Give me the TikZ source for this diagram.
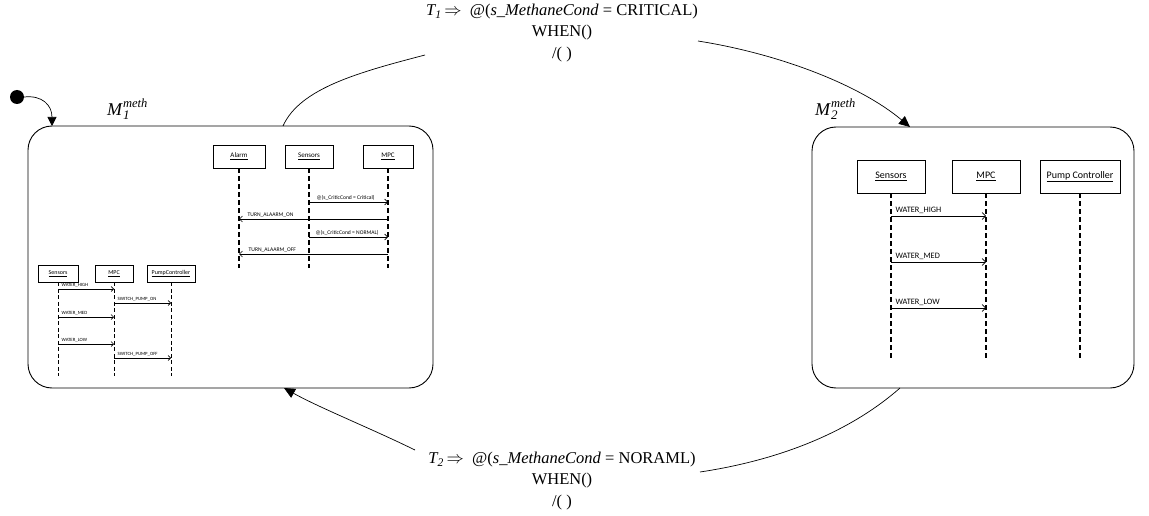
\documentclass[tikz,border=0pt]{standalone}
\usepackage{fontspec}
\setmainfont{Liberation Serif}
\newfontfamily\calib{Carlito}
\usetikzlibrary{arrows.meta}

\newcommand\stname[1]{\textit{M}\rlap{\raisebox{8pt}{\fontsize{12.5}{13}\selectfont\textit{meth}}}\raisebox{-4pt}{\fontsize{13}{13}\selectfont\textit{#1}}}

\begin{document}
\begin{tikzpicture}[x=1pt,y=-1pt,
  state/.style={draw, rounded corners=24pt, line width=0.9pt, inner sep=0},
  obj/.style={draw, line width=0.6pt, inner sep=0, font=\calib},
  life/.style={line width=1.3pt, dash pattern=on 5pt off 3pt},
  msg/.style={line width=0.6pt, -{Straight Barb[length=3.5pt,width=7pt]}},
  trans/.style={line width=0.7pt},
  transarr/.style={line width=0.7pt, -{Triangle[length=11pt,width=10pt]}},
  lab/.style={font=\calib, inner sep=0.5pt, anchor=south west},
  guard/.style={align=center, font=\fontsize{16.5}{21.5}\selectfont, inner sep=0},
  mlab/.style={font=\fontsize{18}{20}\selectfont, inner sep=0, anchor=base west}
]
\useasboundingbox (0,0) rectangle (1149,516);

% ---------------- states ----------------
\node[state, minimum width=405, minimum height=262] (m1) at (230.5,257) {};
\node[state, minimum width=322, minimum height=261] (m2) at (973,257.5) {};
\node[mlab] (m1lab) at (107,116) {\stname{1}};
\node[mlab] (m2lab) at (815,116) {\stname{2}};

% initial pseudo-state
\node[circle, fill, inner sep=0, minimum size=14] (init) at (17,97) {};
\coordinate (m1in) at (52,126);
\draw[transarr, -{Triangle[length=9pt,width=9pt]}] (init.east) .. controls (42,95) and (52,105) .. (m1in);

% ---------------- transitions ----------------
\node[guard] (t1) at (562,33) {\textit{T\textsubscript{1}}\,$\Rightarrow$\enspace@(\textit{s\_MethaneCond} = CRITICAL)\\WHEN()\\/( )};
\node[guard] (t2) at (562,481) {\textit{T\textsubscript{2}}\,$\Rightarrow$\enspace@(\textit{s\_MethaneCond} = NORAML)\\WHEN()\\/( )};

\coordinate (t1a) at (425,55);
\coordinate (t1b) at (698,41);
\coordinate (m1top) at (283,126);
\coordinate (m2top) at (910,127);
\draw[trans] (m1top) .. controls (300,88) and (360,72) .. (t1a);
\draw[transarr] (t1b) .. controls (780,54) and (860,85) .. (m2top);

\coordinate (t2a) at (900,388);
\coordinate (t2b) at (700,472);
\coordinate (t2c) at (415,450);
\coordinate (m1bot) at (284,388);
\draw[trans] (t2a) .. controls (850,432) and (780,460) .. (t2b);
\draw[transarr] (t2c) .. controls (370,428) and (320,408) .. (m1bot);

% ---------------- M1: alarm interaction ----------------
\begin{scope}[obj/.append style={font=\calib\fontsize{7}{8}\selectfont, minimum height=23}]
\node[obj, minimum width=52] (al) at (239,156.5) {\underline{Alarm}};
\node[obj, minimum width=48] (sa) at (309,156.5) {\underline{Sensors}};
\node[obj, minimum width=50] (ma) at (388,156.5) {\underline{MPC}};
\end{scope}
\foreach \n in {al,sa,ma} \draw[life, line width=1.1pt] (\n.south) -- (\n.south |- 0,268);
\begin{scope}[lab/.append style={font=\calib\fontsize{5.6}{6}\selectfont}, msg/.append style={-{Straight Barb[length=3pt,width=6pt]}}]
\draw[msg] (sa |- 0,202) -- (ma |- 0,202);
\node[lab] at ([xshift=7pt]sa |- 0,201) {@(s\_CriticCond = Critical)};
\draw[msg] (ma |- 0,219) -- (al |- 0,219);
\node[lab] at ([xshift=8pt]al |- 0,218) {TURN\_ALAARM\_ON};
\draw[msg] (sa |- 0,237) -- (ma |- 0,237);
\node[lab] at ([xshift=6pt]sa |- 0,236) {@(s\_CriticCond = NORMAL)};
\draw[msg] (ma |- 0,254) -- (al |- 0,254);
\node[lab] at ([xshift=9pt]al |- 0,253) {TURN\_ALAARM\_OFF};
\end{scope}

% ---------------- M1: pump interaction ----------------
\begin{scope}[obj/.append style={font=\calib\fontsize{6}{7}\selectfont, minimum height=17}]
\node[obj, minimum width=40] (sb) at (58,273.5) {\underline{Sensors}};
\node[obj, minimum width=38] (mb) at (114,273.5) {\underline{MPC}};
\node[obj, minimum width=48] (pb) at (171,273.5) {\underline{PumpController}};
\end{scope}
\foreach \n in {sb,mb,pb} \draw[life, line width=1pt, dash pattern=on 4pt off 2.5pt] (\n.south) -- (\n.south |- 0,376);
\begin{scope}[lab/.append style={font=\calib\fontsize{4.8}{5}\selectfont}, msg/.append style={-{Straight Barb[length=2.5pt,width=5pt]}}]
\draw[msg] (sb |- 0,289) -- (mb |- 0,289);
\node[lab] at ([xshift=3pt]sb |- 0,288) {WATER\_HIGH};
\draw[msg] (mb |- 0,303) -- (pb |- 0,303);
\node[lab] at ([xshift=3pt]mb |- 0,302) {SWITCH\_PUMP\_ON};
\draw[msg] (sb |- 0,317) -- (mb |- 0,317);
\node[lab] at ([xshift=3pt]sb |- 0,316) {WATER\_MED};
\draw[msg] (sb |- 0,344) -- (mb |- 0,344);
\node[lab] at ([xshift=3pt]sb |- 0,343) {WATER\_LOW};
\draw[msg] (mb |- 0,358) -- (pb |- 0,358);
\node[lab] at ([xshift=3pt]mb |- 0,357) {SWITCH\_PUMP\_OFF};
\end{scope}

% ---------------- M2: pump interaction ----------------
\begin{scope}[obj/.append style={font=\calib\fontsize{10}{11}\selectfont, minimum height=33}]
\node[obj, minimum width=68] (sc) at (891,176.5) {\underline{Sensors}};
\node[obj, minimum width=68] (mc) at (986,176.5) {\underline{MPC}};
\node[obj, minimum width=80] (pc) at (1080,176.5) {\underline{Pump Controller}};
\end{scope}
\foreach \n in {sc,mc,pc} \draw[life] (\n.south) -- (\n.south |- 0,360);
\begin{scope}[lab/.append style={font=\calib\fontsize{8.3}{9}\selectfont}]
\draw[msg] (sc |- 0,216) -- (mc |- 0,216);
\node[lab] at ([xshift=4pt]sc |- 0,214.5) {WATER\_HIGH};
\draw[msg] (sc |- 0,262) -- (mc |- 0,262);
\node[lab] at ([xshift=4pt]sc |- 0,260.5) {WATER\_MED};
\draw[msg] (sc |- 0,308) -- (mc |- 0,308);
\node[lab] at ([xshift=4pt]sc |- 0,306.5) {WATER\_LOW};
\end{scope}
\end{tikzpicture}
\end{document}
